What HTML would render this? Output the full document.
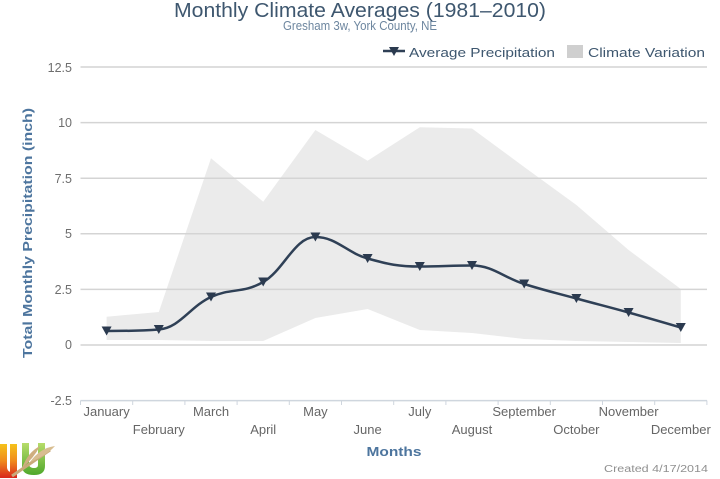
<!DOCTYPE html>
<html>
<head>
<meta charset="utf-8">
<style>
html,body{margin:0;padding:0;background:#fff;}
svg{display:block;}
text{font-family:"Liberation Sans",sans-serif;}
</style>
</head>
<body>
<svg width="720" height="479" viewBox="0 0 720 479" xmlns="http://www.w3.org/2000/svg">
<rect width="720" height="479" fill="#fff"/>

<!-- Title -->
<text x="360" y="17" text-anchor="middle" font-size="20" fill="#3e576f" textLength="372" lengthAdjust="spacingAndGlyphs">Monthly Climate Averages (1981–2010)</text>
<text x="360" y="30" text-anchor="middle" font-size="12.5" fill="#6d869f" textLength="154" lengthAdjust="spacingAndGlyphs">Gresham 3w, York County, NE</text>

<!-- Legend -->
<line x1="383" y1="51" x2="405" y2="51" stroke="#2f4056" stroke-width="2.5"/>
<path d="M389 47 L399 47 L394 56 Z" fill="#2b3a4f"/>
<text x="409" y="57" font-size="13" fill="#3e576f" textLength="146" lengthAdjust="spacingAndGlyphs">Average Precipitation</text>
<rect x="567" y="45" width="16" height="13" fill="#cfcfcf"/>
<text x="588" y="57" font-size="13" fill="#3e576f" textLength="117" lengthAdjust="spacingAndGlyphs">Climate Variation</text>

<!-- Area range -->
<polygon fill="#ebebeb" points="106.6,316.7 158.8,312 211,158.3 263.2,201.7 315.4,130 367.6,160.7 419.8,127.3 472,128.5 524.2,167 576.4,205 628.6,250 680.8,289 680.8,343 628.6,342 576.4,341 524.2,339 472,333 419.8,330 367.6,309 315.4,318 263.2,341 211,341 158.8,340 106.6,340"/>

<!-- Gridlines -->
<g stroke="#d4d4d4" stroke-width="1.5">
<line x1="80.5" y1="67" x2="707" y2="67"/>
<line x1="80.5" y1="122.6" x2="707" y2="122.6"/>
<line x1="80.5" y1="178.2" x2="707" y2="178.2"/>
<line x1="80.5" y1="233.8" x2="707" y2="233.8"/>
<line x1="80.5" y1="289.4" x2="707" y2="289.4"/>
<line x1="80.5" y1="345" x2="707" y2="345"/>
</g>
<!-- X axis -->
<line x1="80.5" y1="400.6" x2="707" y2="400.6" stroke="#cfd6de" stroke-width="1.5"/>
<g stroke="#cfd6de" stroke-width="1">
<line x1="80.5" y1="400.6" x2="80.5" y2="405"/>
<line x1="132.7" y1="400.6" x2="132.7" y2="405"/>
<line x1="184.9" y1="400.6" x2="184.9" y2="405"/>
<line x1="237.1" y1="400.6" x2="237.1" y2="405"/>
<line x1="289.3" y1="400.6" x2="289.3" y2="405"/>
<line x1="341.5" y1="400.6" x2="341.5" y2="405"/>
<line x1="393.7" y1="400.6" x2="393.7" y2="405"/>
<line x1="445.9" y1="400.6" x2="445.9" y2="405"/>
<line x1="498.1" y1="400.6" x2="498.1" y2="405"/>
<line x1="550.3" y1="400.6" x2="550.3" y2="405"/>
<line x1="602.5" y1="400.6" x2="602.5" y2="405"/>
<line x1="654.7" y1="400.6" x2="654.7" y2="405"/>
<line x1="706.9" y1="400.6" x2="706.9" y2="405"/>
</g>

<!-- Y labels -->
<g font-size="12.5" fill="#6e6e6e" text-anchor="end">
<text x="72" y="72">12.5</text>
<text x="72" y="127">10</text>
<text x="72" y="183">7.5</text>
<text x="72" y="238">5</text>
<text x="72" y="294">2.5</text>
<text x="72" y="349">0</text>
<text x="72" y="405">-2.5</text>
</g>

<!-- Y title -->
<text transform="translate(32,233) rotate(-90)" text-anchor="middle" font-size="13" font-weight="bold" fill="#4d759e" textLength="250" lengthAdjust="spacingAndGlyphs">Total Monthly Precipitation (inch)</text>

<!-- X labels -->
<g font-size="13" fill="#666" text-anchor="middle">
<text x="106.6" y="416">January</text>
<text x="158.8" y="434">February</text>
<text x="211" y="416">March</text>
<text x="263.2" y="434">April</text>
<text x="315.4" y="416">May</text>
<text x="367.6" y="434">June</text>
<text x="419.8" y="416">July</text>
<text x="472" y="434">August</text>
<text x="524.2" y="416">September</text>
<text x="576.4" y="434">October</text>
<text x="628.6" y="416">November</text>
<text x="680.8" y="434">December</text>
</g>
<text x="394" y="456" text-anchor="middle" font-size="13" font-weight="bold" fill="#4d759e" textLength="55" lengthAdjust="spacingAndGlyphs">Months</text>

<!-- Spline -->
<path fill="none" stroke="#2f4056" stroke-width="2.5" stroke-linejoin="round" d="M106.6 331 C106.6 331,137.9 331,158.8 329.5 C179.7 328,190.1 306.5,211 297 C231.9 287.5,242.3 294,263.2 282 C284.1 270,294.5 237,315.4 237 C336.3 237,346.7 252.6,367.6 258.5 C388.5 264.4,398.9 266.5,419.8 266.5 C440.7 266.5,451.1 265.5,472 265.5 C492.9 265.5,503.3 277.4,524.2 284 C545.1 290.6,555.5 292.8,576.4 298.5 C597.3 304.2,607.7 306.7,628.6 312.5 C649.5 318.3,680.8 327.5,680.8 327.5"/>
<g fill="#2b3a4f">
<path d="M101.6 326.5 L111.6 326.5 L106.6 335.5 Z"/>
<path d="M153.8 325 L163.8 325 L158.8 334 Z"/>
<path d="M206 292.5 L216 292.5 L211 301.5 Z"/>
<path d="M258.2 277.5 L268.2 277.5 L263.2 286.5 Z"/>
<path d="M310.4 232.5 L320.4 232.5 L315.4 241.5 Z"/>
<path d="M362.6 254 L372.6 254 L367.6 263 Z"/>
<path d="M414.8 262 L424.8 262 L419.8 271 Z"/>
<path d="M467 261 L477 261 L472 270 Z"/>
<path d="M519.2 279.5 L529.2 279.5 L524.2 288.5 Z"/>
<path d="M571.4 294 L581.4 294 L576.4 303 Z"/>
<path d="M623.6 308 L633.6 308 L628.6 317 Z"/>
<path d="M675.8 323 L685.8 323 L680.8 332 Z"/>
</g>

<!-- Created -->
<text x="708" y="472" text-anchor="end" font-size="10" fill="#909090" textLength="104" lengthAdjust="spacingAndGlyphs">Created 4/17/2014</text>

<!-- Logo -->
<defs>
<linearGradient id="ug" x1="0" y1="0" x2="0" y2="1">
<stop offset="0" stop-color="#f5c21b"/>
<stop offset="0.5" stop-color="#f08a1c"/>
<stop offset="1" stop-color="#d9261c"/>
</linearGradient>
<linearGradient id="gg" x1="0" y1="0" x2="0" y2="1">
<stop offset="0" stop-color="#b7dc6a"/>
<stop offset="1" stop-color="#4fa82b"/>
</linearGradient>
</defs>
<path d="M0 444 L7 444 L7 468 Q8 472 11 472 L11 478 L0 478 Z" fill="url(#ug)"/>
<path d="M10 444 L17 444 L17 478 L10 478 Z" fill="url(#ug)"/>
<path d="M22 443 L29 443 L29 465 Q30 468 34 468 Q38 468 38 465 L38 443 L45 443 L45 466 Q45 475 34 475 Q22 475 22 466 Z" fill="url(#gg)"/>
<path d="M12 476 L50 450" stroke="#c9a97a" stroke-width="3" fill="none"/>
<path d="M30 462 Q40 448 55 446 Q46 456 30 462 Z" fill="#d8bd90"/>
<path d="M22 468 Q28 452 40 446 Q34 458 22 468 Z" fill="#cfae7f"/>
</svg>
</body>
</html>
